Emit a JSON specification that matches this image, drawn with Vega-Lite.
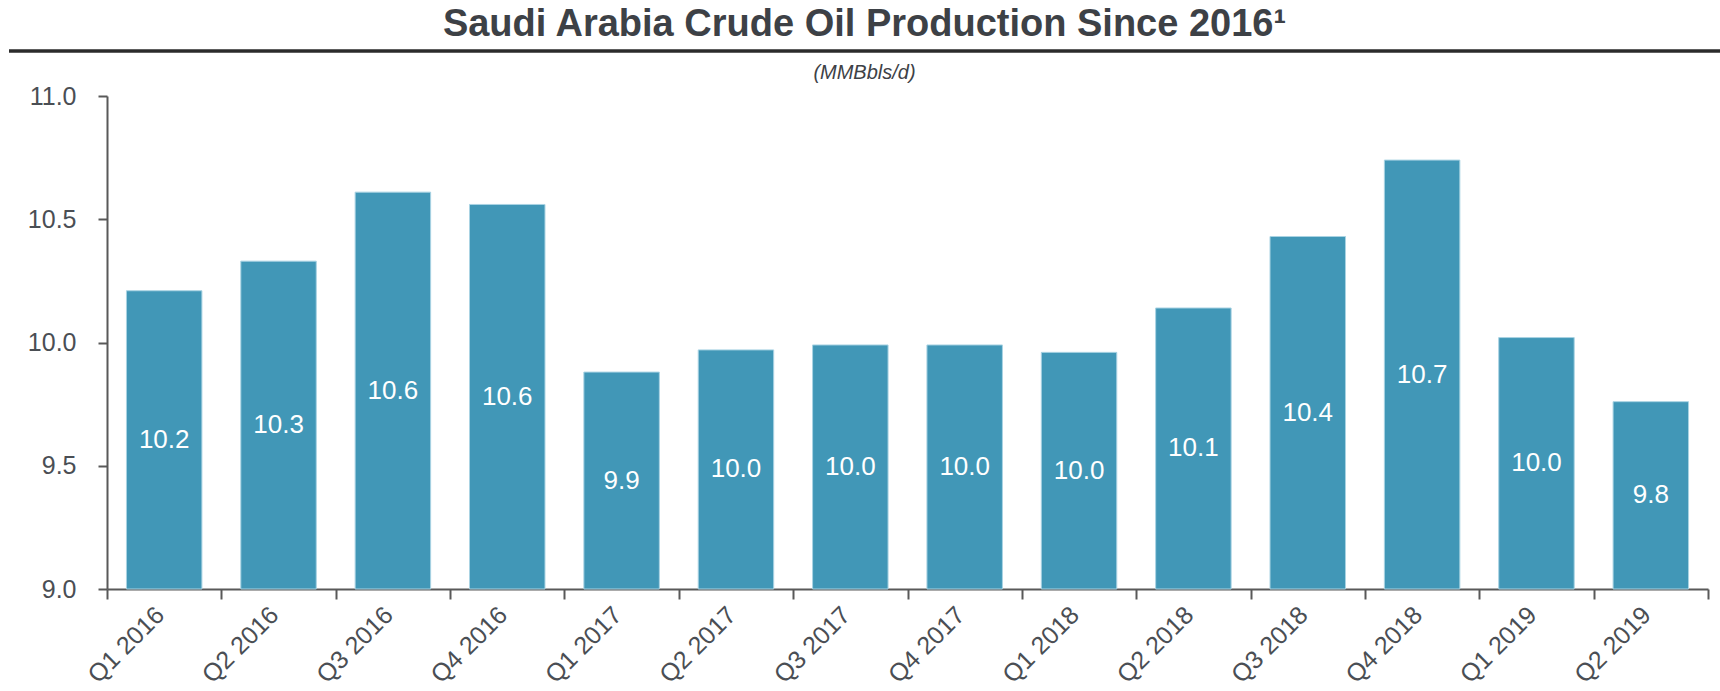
{
  "$schema": "https://vega.github.io/schema/vega-lite/v6.json",
  "autosize": {"type": "none"},
  "width": 1601,
  "height": 493,
  "padding": {"left": 107, "top": 96, "right": 12, "bottom": 102},
  "background": "white",
  "config": {
    "view": {"stroke": null},
    "font": "Liberation Sans"
  },
  "title": {
    "text": "Saudi Arabia Crude Oil Production Since 2016¹",
    "subtitle": "(MMBbls/d)",
    "anchor": "middle",
    "dx": -43,
    "fontSize": 38,
    "fontWeight": "bold",
    "color": "#3d4146",
    "subtitleFontSize": 20,
    "subtitleFontStyle": "italic",
    "subtitleColor": "#3d4146",
    "subtitlePadding": 19,
    "offset": -34
  },
  "data": {
    "values": [
      {"quarter": "Q1 2016", "production": 10.21},
      {"quarter": "Q2 2016", "production": 10.33},
      {"quarter": "Q3 2016", "production": 10.61},
      {"quarter": "Q4 2016", "production": 10.56},
      {"quarter": "Q1 2017", "production": 9.88},
      {"quarter": "Q2 2017", "production": 9.97},
      {"quarter": "Q3 2017", "production": 9.99},
      {"quarter": "Q4 2017", "production": 9.99},
      {"quarter": "Q1 2018", "production": 9.96},
      {"quarter": "Q2 2018", "production": 10.14},
      {"quarter": "Q3 2018", "production": 10.43},
      {"quarter": "Q4 2018", "production": 10.74},
      {"quarter": "Q1 2019", "production": 10.02},
      {"quarter": "Q2 2019", "production": 9.76}
    ]
  },
  "layer": [
    {
      "mark": {"type": "bar", "color": "#4197b7", "stroke": "#a9d3e3", "strokeWidth": 1, "width": {"band": 0.66}},
      "encoding": {
        "x": {
          "field": "quarter",
          "type": "nominal",
          "sort": null,
          "scale": {
            "domain": ["Q1 2016", "Q2 2016", "Q3 2016", "Q4 2016", "Q1 2017", "Q2 2017", "Q3 2017", "Q4 2017", "Q1 2018", "Q2 2018", "Q3 2018", "Q4 2018", "Q1 2019", "Q2 2019"],
            "paddingInner": 0,
            "paddingOuter": 0
          },
          "axis": {
            "title": null,
            "labelAngle": -45,
            "labelFontSize": 25,
            "labelColor": "#4a4e54",
            "labelPadding": 3,
            "labelOffset": -13,
            "tickBand": "extent",
            "tickSize": 10,
            "tickWidth": 2,
            "tickColor": "#595959",
            "domainColor": "#595959",
            "domainWidth": 2
          }
        },
        "y": {
          "field": "production",
          "type": "quantitative",
          "scale": {"domain": [9, 11], "nice": false, "zero": false},
          "axis": {
            "title": null,
            "values": [9, 9.5, 10, 10.5, 11],
            "format": ".1f",
            "grid": false,
            "labelFontSize": 25,
            "labelColor": "#4a4e54",
            "labelPadding": 22,
            "tickSize": 9,
            "tickWidth": 2,
            "tickColor": "#595959",
            "domainColor": "#595959",
            "domainWidth": 2
          }
        },
        "y2": {"datum": 9}
      }
    },
    {
      "transform": [{"calculate": "(datum.production + 9) / 2", "as": "labelPos"}],
      "mark": {"type": "text", "color": "white", "fontSize": 26, "baseline": "middle", "align": "center"},
      "encoding": {
        "x": {"field": "quarter", "type": "nominal", "sort": null},
        "y": {"field": "labelPos", "type": "quantitative"},
        "text": {"field": "production", "type": "quantitative", "format": ".1f"}
      }
    },
    {
      "data": {"values": [{"v": 11.1826, "start": "Q1 2016", "end": "Q2 2019"}]},
      "mark": {"type": "rule", "color": "#2b2b2b", "strokeWidth": 3.5, "xOffset": -98, "x2Offset": 12},
      "encoding": {
        "x": {"field": "start", "type": "nominal", "sort": null, "bandPosition": 0},
        "x2": {"field": "end", "bandPosition": 1},
        "y": {"field": "v", "type": "quantitative"}
      }
    }
  ]
}
